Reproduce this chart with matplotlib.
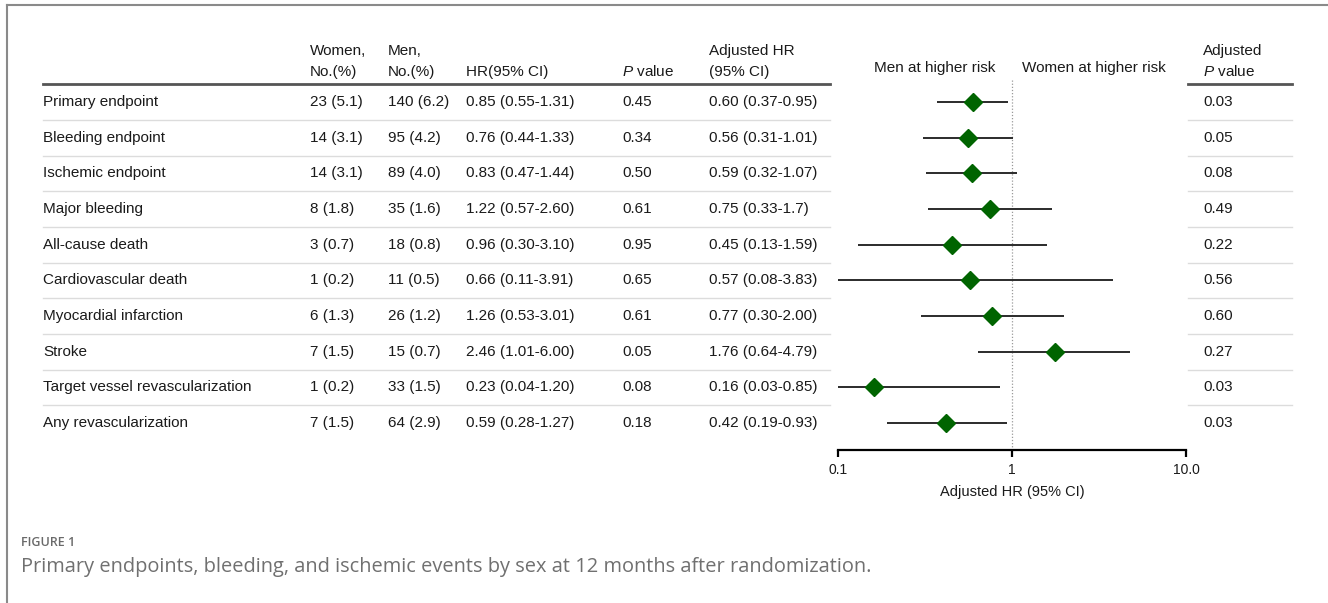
import matplotlib
matplotlib.use("Agg")
import matplotlib.pyplot as plt
import numpy as np

# ---------------- data ----------------
labels = ["Primary endpoint", "Bleeding endpoint", "Ischemic endpoint", "Major bleeding",
          "All-cause death", "Cardiovascular death", "Myocardial infarction", "Stroke",
          "Target vessel revascularization", "Any revascularization"]
women = ["23 (5.1)", "14 (3.1)", "14 (3.1)", "8 (1.8)", "3 (0.7)", "1 (0.2)",
         "6 (1.3)", "7 (1.5)", "1 (0.2)", "7 (1.5)"]
men = ["140 (6.2)", "95 (4.2)", "89 (4.0)", "35 (1.6)", "18 (0.8)", "11 (0.5)",
       "26 (1.2)", "15 (0.7)", "33 (1.5)", "64 (2.9)"]
hr_text = ["0.85 (0.55-1.31)", "0.76 (0.44-1.33)", "0.83 (0.47-1.44)", "1.22 (0.57-2.60)",
           "0.96 (0.30-3.10)", "0.66 (0.11-3.91)", "1.26 (0.53-3.01)", "2.46 (1.01-6.00)",
           "0.23 (0.04-1.20)", "0.59 (0.28-1.27)"]
p_values = ["0.45", "0.34", "0.50", "0.61", "0.95", "0.65", "0.61", "0.05", "0.08", "0.18"]
adj_hr = [0.60, 0.56, 0.59, 0.75, 0.45, 0.57, 0.77, 1.76, 0.16, 0.42]
adj_lo = [0.37, 0.31, 0.32, 0.33, 0.13, 0.08, 0.30, 0.64, 0.03, 0.19]
adj_hi = [0.95, 1.01, 1.07, 1.7, 1.59, 3.83, 2.00, 4.79, 0.85, 0.93]
adj_hr_text = ["0.60 (0.37-0.95)", "0.56 (0.31-1.01)", "0.59 (0.32-1.07)", "0.75 (0.33-1.7)",
               "0.45 (0.13-1.59)", "0.57 (0.08-3.83)", "0.77 (0.30-2.00)", "1.76 (0.64-4.79)",
               "0.16 (0.03-0.85)", "0.42 (0.19-0.93)"]
adj_p = ["0.03", "0.05", "0.08", "0.49", "0.22", "0.56", "0.60", "0.27", "0.03", "0.03"]
x_ticks = [0.1, 1, 10]
x_ticklabels = ["0.1", "1", "10.0"]

# ---------------- style ----------------
plt.rcParams["font.family"] = ["Liberation Sans", "DejaVu Sans"]
plt.rcParams["mathtext.fontset"] = "custom"
plt.rcParams["mathtext.rm"] = "Liberation Sans"
plt.rcParams["mathtext.it"] = "Liberation Sans:italic"
TXT = "#1a1a1a"
FS = 11

W, H = 1328, 603
fig = plt.figure(figsize=(W / 100, H / 100), dpi=100)
fig.patch.set_facecolor("white")

# overlay axes in pixel coordinates for the table
ax0 = fig.add_axes([0, 0, 1, 1])
ax0.set_xlim(0, W)
ax0.set_ylim(H, 0)
ax0.axis("off")

# frame (top and left)
ax0.plot([7, W], [5, 5], color="#8a8a8a", lw=1.5)
ax0.plot([7, 7], [5, H], color="#8a8a8a", lw=1.5)

row0, dy = 102, 35.67
rows_y = [row0 + i * dy for i in range(len(labels))]

col_lab, col_w, col_m, col_hr, col_p, col_ahr, col_ap = 43, 310, 388, 466, 622, 709, 1203

# headers
hy1, hy2 = 51, 72
ax0.text(col_w, hy1, "Women,", fontsize=FS, color=TXT, va="center")
ax0.text(col_w, hy2, "No.(%)", fontsize=FS, color=TXT, va="center")
ax0.text(col_m, hy1, "Men,", fontsize=FS, color=TXT, va="center")
ax0.text(col_m, hy2, "No.(%)", fontsize=FS, color=TXT, va="center")
ax0.text(col_hr, hy2, "HR(95% CI)", fontsize=FS, color=TXT, va="center")
ax0.text(col_p, hy2, r"$\it{P}$ value", fontsize=FS, color=TXT, va="center")
ax0.text(col_ahr, hy1, "Adjusted HR", fontsize=FS, color=TXT, va="center")
ax0.text(col_ahr, hy2, "(95% CI)", fontsize=FS, color=TXT, va="center")
ax0.text(935, 68, "Men at higher risk", fontsize=FS, color=TXT, va="center", ha="center")
ax0.text(1094, 68, "Women at higher risk", fontsize=FS, color=TXT, va="center", ha="center")
ax0.text(col_ap, hy1, "Adjusted", fontsize=FS, color=TXT, va="center")
ax0.text(col_ap, hy2, r"$\it{P}$ value", fontsize=FS, color=TXT, va="center")

# header rules
ax0.plot([43, 830], [84, 84], color="#555555", lw=2)
ax0.plot([1188, 1292], [84, 84], color="#555555", lw=2)

# rows
for i, y in enumerate(rows_y):
    ax0.text(col_lab, y, labels[i], fontsize=FS, color=TXT, va="center")
    ax0.text(col_w, y, women[i], fontsize=FS, color=TXT, va="center")
    ax0.text(col_m, y, men[i], fontsize=FS, color=TXT, va="center")
    ax0.text(col_hr, y, hr_text[i], fontsize=FS, color=TXT, va="center")
    ax0.text(col_p, y, p_values[i], fontsize=FS, color=TXT, va="center")
    ax0.text(col_ahr, y, adj_hr_text[i], fontsize=FS, color=TXT, va="center")
    ax0.text(col_ap, y, adj_p[i], fontsize=FS, color=TXT, va="center")
    if i < len(labels) - 1:
        ys = y + dy / 2
        ax0.plot([43, 830], [ys, ys], color="#dcdcdc", lw=1)
        ax0.plot([1188, 1292], [ys, ys], color="#dcdcdc", lw=1)

# caption
ax0.text(21, 543, "FIGURE 1", fontsize=9, color="#6a6a6a", va="center",
         family=["Open Sans", "DejaVu Sans"], fontweight="semibold")
ax0.text(21, 567, "Primary endpoints, bleeding, and ischemic events by sex at 12 months after randomization.",
         fontsize=14.4, color="#707070", va="center", family=["Open Sans", "DejaVu Sans"])

# ---------------- forest axes ----------------
top_px, bot_px = 80, 450
left_px, right_px = 838, 1186
ax = fig.add_axes([left_px / W, (H - bot_px) / H, (right_px - left_px) / W, (bot_px - top_px) / H])
ax.set_facecolor("none")
ax.set_xscale("log")
ax.set_xlim(0.1, 10)
ax.set_ylim((bot_px - row0) / dy, (top_px - row0) / dy)
idx = np.arange(len(labels))
ax.axvline(1, color="#9a9a9a", ls=(0, (1, 1.5)), lw=0.9, zorder=1)
ax.hlines(idx, adj_lo, adj_hi, color="#2b2b2b", lw=1.4, zorder=2)
ax.plot(adj_hr, idx, ls="none", marker="D", markersize=9.5, color="#006400", zorder=3)

for s in ["top", "left", "right"]:
    ax.spines[s].set_visible(False)
ax.spines["bottom"].set_linewidth(1.6)
ax.spines["bottom"].set_color("black")
ax.set_yticks([])
ax.set_xticks(x_ticks)
ax.set_xticklabels(x_ticklabels)
ax.minorticks_off()
ax.tick_params(axis="x", direction="out", length=5, width=1.6, labelsize=10, pad=4, colors="black")
for t in ax.get_xticklabels():
    t.set_color(TXT)
ax.set_xlabel("Adjusted HR (95% CI)", fontsize=10.5, color=TXT, labelpad=6)

fig.savefig("out.png", dpi=100)
